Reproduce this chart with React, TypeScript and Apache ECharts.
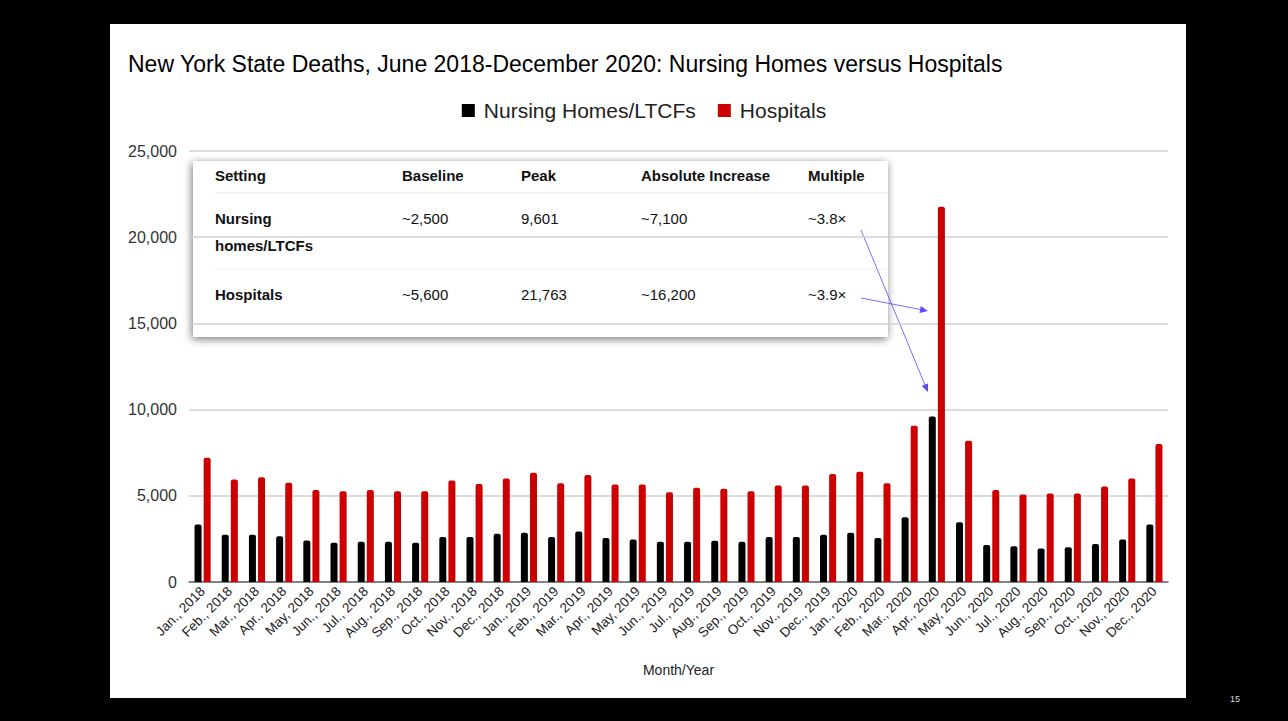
import React, { useEffect, useRef } from "react";
import * as echarts from "echarts";

const months = ["Jan.,", "Feb.,", "Mar.,", "Apr.,", "May,", "Jun.,", "Jul.,", "Aug.,", "Sep.,", "Oct.,", "Nov.,", "Dec.,"];
const years = ["2018", "2019", "2020"];
const categories: string[] = [];
years.forEach((y) => months.forEach((m) => categories.push(`${m} ${y}`)));

const nursingHomes = [
  3340, 2740, 2740, 2660, 2410, 2280, 2340, 2340, 2280, 2610, 2610, 2800,
  2860, 2610, 2930, 2550, 2470, 2340, 2340, 2390, 2340, 2610, 2610, 2740,
  2860, 2550, 3750, 9601, 3470, 2140, 2080, 1950, 2010, 2200, 2470, 3340,
];
const hospitals = [
  7200, 5950, 6080, 5750, 5330, 5270, 5330, 5270, 5270, 5890, 5680, 6000,
  6330, 5730, 6200, 5660, 5660, 5210, 5460, 5410, 5270, 5600, 5600, 6270,
  6390, 5730, 9070, 21763, 8200, 5330, 5080, 5140, 5140, 5540, 6000, 8010,
];
const yTicks = [0, 5000, 10000, 15000, 20000, 25000];

const tableHeaders = ["Setting", "Baseline", "Peak", "Absolute Increase", "Multiple"];
const tableRows = [
  ["Nursing\nhomes/LTCFs", "~2,500", "9,601", "~7,100", "~3.8×"],
  ["Hospitals", "~5,600", "21,763", "~16,200", "~3.9×"],
];

const FONT = "'Liberation Sans', Arial, Helvetica, sans-serif";

export default function App() {
  const ref = useRef<HTMLDivElement>(null);
  useEffect(() => {
    if (!ref.current) return;
    const chart = echarts.init(ref.current, null, { renderer: "svg" });
    const colX = [215, 402, 521, 641, 808];
    const tableEls: any[] = [];
    tableHeaders.forEach((h, i) =>
      tableEls.push({
        type: "text", x: colX[i], y: 175,
        style: { text: h, font: `bold 15px ${FONT}`, fill: "#111", textVerticalAlign: "middle" },
      })
    );
    const rowY = [218, 294];
    tableRows.forEach((row, r) =>
      row.forEach((cell, i) => {
        if (i === 0 && cell.includes("\n")) {
          cell.split("\n").forEach((part, k) =>
            tableEls.push({
              type: "text", x: colX[0], y: rowY[r] + k * 27,
              style: { text: part, font: `bold 15px ${FONT}`, fill: "#111", textVerticalAlign: "middle" },
            })
          );
        } else {
          tableEls.push({
            type: "text", x: colX[i], y: rowY[r],
            style: { text: cell, font: `${i === 0 ? "bold " : ""}15px ${FONT}`, fill: "#111", textVerticalAlign: "middle" },
          });
        }
      })
    );

    const option: any = {
      animation: false,
      backgroundColor: "#000",
      textStyle: { fontFamily: FONT },
      title: {
        text: "New York State Deaths, June 2018-December 2020: Nursing Homes versus Hospitals",
        left: 123, top: 47,
        textStyle: { fontSize: 23, fontWeight: "normal", color: "#000", fontFamily: FONT },
      },
      legend: {
        top: 95, left: "center",
        itemWidth: 13, itemHeight: 13, itemGap: 22,
        icon: "rect",
        textStyle: { fontSize: 21, color: "#222", fontFamily: FONT, padding: [0, 0, 0, 4] },
        data: ["Nursing Homes/LTCFs", "Hospitals"],
      },
      grid: { left: 189, right: 120, top: 151, bottom: 139, containLabel: false },
      xAxis: {
        type: "category",
        data: categories,
        name: "Month/Year",
        nameLocation: "middle",
        nameGap: 81,
        nameTextStyle: { fontSize: 14, color: "#222", fontFamily: FONT },
        axisLine: { lineStyle: { color: "#666", width: 1.5 } },
        axisTick: { show: false },
        axisLabel: { interval: 0, rotate: 45, fontSize: 13.5, color: "#222", margin: 7, fontFamily: FONT },
      },
      yAxis: {
        type: "value",
        min: 0, max: 25000, interval: 5000,
        axisLine: { show: false },
        axisTick: { show: false },
        splitLine: { lineStyle: { color: "#d0d0d0", width: 1.5 } },
        axisLabel: {
          fontSize: 16, color: "#333", margin: 12, fontFamily: FONT,
          formatter: (v: number) => (yTicks.includes(v) ? v.toLocaleString("en-US") : ""),
        },
      },
      series: [
        {
          name: "Nursing Homes/LTCFs", type: "bar", data: nursingHomes,
          barWidth: 7, barGap: "30%",
          itemStyle: { color: "#000", borderRadius: [2, 2, 0, 0] },
        },
        {
          name: "Hospitals", type: "bar", data: hospitals,
          barWidth: 7,
          itemStyle: { color: "#cc0000", borderRadius: [2, 2, 0, 0] },
        },
      ],
      graphic: [
        {
          type: "rect", z: -10, silent: true,
          shape: { x: 110, y: 24, width: 1076, height: 674 },
          style: { fill: "#fff" },
        },
        {
          type: "text", x: 1235, y: 699,
          style: { text: "15", font: `9px ${FONT}`, fill: "#ddd", textVerticalAlign: "middle", textAlign: "center" },
        },
        {
          type: "group", z: 100,
          children: [
            {
              type: "rect",
              shape: { x: 193, y: 161, width: 695, height: 176 },
              style: { fill: "#fff", shadowBlur: 8, shadowColor: "rgba(0,0,0,0.55)", shadowOffsetX: -1, shadowOffsetY: 2 },
            },
            { type: "line", shape: { x1: 215, y1: 193, x2: 888, y2: 193 }, style: { stroke: "#e2e2e2", lineWidth: 1 } },
            { type: "line", shape: { x1: 215, y1: 269, x2: 888, y2: 269 }, style: { stroke: "#efefef", lineWidth: 1 } },
            ...tableEls,
          ],
        },
        {
          type: "group", z: 110,
          children: [
            { type: "line", shape: { x1: 861, y1: 230, x2: 925, y2: 385 }, style: { stroke: "#5a4cf5", lineWidth: 0.8 } },
            { type: "polygon", shape: { points: [[928, 392], [921.7, 385.9], [928.1, 383.3]] }, style: { fill: "#5a4cf5" } },
            { type: "line", shape: { x1: 861, y1: 298, x2: 921, y2: 309.6 }, style: { stroke: "#5a4cf5", lineWidth: 0.8 } },
            { type: "polygon", shape: { points: [[928, 311], [919.5, 312.9], [920.8, 306.1]] }, style: { fill: "#5a4cf5" } },
          ],
        },
      ],
    };
    chart.setOption(option);
    return () => chart.dispose();
  }, []);
  return <div ref={ref} style={{ position: "fixed", left: 0, top: 0, width: 1288, height: 721 }} />;
}
